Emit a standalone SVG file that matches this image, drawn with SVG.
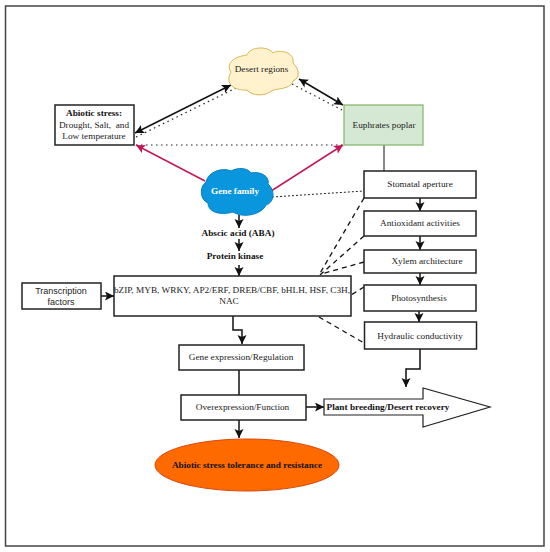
<svg xmlns="http://www.w3.org/2000/svg" width="550" height="552" viewBox="0 0 550 552">
<style>
text{font-family:"Liberation Serif",serif;font-size:9.25px;fill:#222;text-anchor:middle}
.b{font-weight:bold;fill:#111}
.box{fill:#fff;stroke:#222;stroke-width:1.5}
.l{fill:none;stroke:#111;stroke-width:1.5}
.a{marker-end:url(#ah)}
.s{marker-start:url(#as)}
.dot{fill:none;stroke:#222;stroke-width:1.2;stroke-dasharray:1.5 3.5}
.dash{fill:none;stroke:#111;stroke-width:1.3;stroke-dasharray:5 4}
.r{fill:none;stroke:#c2185b;stroke-width:1.5;marker-end:url(#ar)}
</style>
<defs>
<marker id="ah" markerWidth="10" markerHeight="10" refX="9" refY="4.500" orient="auto" markerUnits="userSpaceOnUse"><path d="M0 0L9 4.500L0 9L2 4.500Z" fill="#111"/></marker>
<marker id="as" markerWidth="10" markerHeight="10" refX="0" refY="4.500" orient="auto" markerUnits="userSpaceOnUse"><path d="M9 0L0 4.500L9 9L7 4.500Z" fill="#111"/></marker>
<marker id="ar" markerWidth="10" markerHeight="10" refX="9" refY="4.500" orient="auto" markerUnits="userSpaceOnUse"><path d="M0 0L9 4.500L0 9L2 4.500Z" fill="#c2185b"/></marker>
</defs>
<rect x="5.500" y="6" width="538.500" height="540" fill="#fff" stroke="#444" stroke-width="1.500"/>
<g id="connectors">
<path class="l a s" d="M135 133L231 85"/>
<path class="dot" d="M136 137L236 88"/>
<path class="l a s" d="M299 79L343 105"/>
<path class="dot" d="M292 84L342 110"/>
<path class="dot" d="M136 145L342 145"/>
<path class="r" d="M205 181L136 145"/>
<path class="r" d="M268 193L343 145"/>
<path class="l" style="stroke-width:1" d="M384 145V171"/>
<path class="dot" style="stroke-dasharray:2 2;stroke-width:1" d="M272 197L364 191"/>
<path class="l a" d="M420 198V211"/>
<path class="l a" d="M420 236V250"/>
<path class="l a" d="M420 273V285"/>
<path class="l a" d="M419 311V322"/>
<path class="dash" d="M364 198L319 275"/>
<path class="dash" d="M364 236L320 275"/>
<path class="dash" d="M364 262L321 274"/>
<path class="dash" d="M364 287L351 295"/>
<path class="dash" d="M319 317L364 343"/>
<path class="l a" d="M239 215V228"/>
<path class="l a" d="M239 239V251"/>
<path class="l a" d="M239 265V276"/>
<path class="l a" d="M101 296H114"/>
<path class="l a" d="M233 316V330H242V344"/>
<path class="l" d="M239 370V395"/>
<path class="l a" d="M306 407H324"/>
<path class="l a" d="M239 420V438"/>
<path class="l a" d="M420 349V369H406V387"/>
</g>
<g id="desert-regions">
<path d="M231 72C226 64 232 57 247 55C251 46 268 46 273 53C279 49 295 52 293 63C300 70 300 78 293 81C292 88 279 89 273 90C265 97 252 96 247 90C235 91 224 84 231 72Z" fill="#fff2cc" stroke="#d6b656" stroke-width="1"/>
<text x="261.500" y="72">Desert regions</text>
</g>
<g id="abiotic-stress">
<rect class="box" x="55" y="105" width="79" height="40"/>
<text class="b" x="94" y="116">Abiotic stress:</text>
<text x="94" y="128" style="white-space:pre">Drought, Salt,  and</text>
<text x="94" y="139">Low temperature</text>
</g>
<g id="euphrates-poplar">
<rect x="344" y="105" width="79" height="40" fill="#d5e8d4" stroke="#82b366" stroke-width="1.2"/>
<text x="384" y="128">Euphrates poplar</text>
</g>
<g id="gene-family">
<path d="M206 182C208 172 222 167 231 171C238 167 248 168 251 173C260 171 270 176 268 184C275 190 275 202 266 205C262 214 244 219 233 212C224 215 208 214 208 203C200 200 199 187 206 182Z" fill="#0a96dc" stroke="#0a7ec0" stroke-width="1"/>
<text class="b" x="235" y="194" style="fill:#fff">Gene family</text>
</g>
<g id="abscisic-acid"><text class="b" x="238" y="236">Abscic acid (ABA)</text></g>
<g id="protein-kinase"><text class="b" x="235" y="259">Protein kinase</text></g>
<g id="stomatal-aperture"><rect class="box" x="364" y="171" width="112" height="27"/><text x="420" y="187">Stomatal aperture</text></g>
<g id="antioxidant-activities"><rect class="box" x="364" y="211" width="112" height="25"/><text x="420" y="226">Antioxidant activities</text></g>
<g id="xylem-architecture"><rect class="box" x="364" y="250" width="112" height="23"/><text x="427" y="264">Xylem architecture</text></g>
<g id="photosynthesis"><rect class="box" x="364" y="285" width="112" height="26"/><text x="419" y="301">Photosynthesis</text></g>
<g id="hydraulic-conductivity"><rect class="box" x="364.500" y="322" width="112" height="27"/><text x="420" y="339">Hydraulic conductivity</text></g>
<g id="transcription-factors"><rect class="box" x="22" y="283" width="79" height="26"/>
<text x="61" y="293.500" style="font-family:'Liberation Sans',sans-serif;font-size:9px">Transcription</text>
<text x="61" y="305" style="font-family:'Liberation Sans',sans-serif;font-size:9px">factors</text></g>
<g id="tf-list"><rect class="box" x="114" y="276" width="237" height="40"/>
<text x="232" y="293">bZIP, MYB, WRKY, AP2/ERF, DREB/CBF, bHLH, HSF, C3H,</text>
<text x="229" y="304">NAC</text></g>
<g id="gene-expression"><rect class="box" x="179" y="345" width="125" height="25"/><text x="241" y="360">Gene expression/Regulation</text></g>
<g id="overexpression"><rect class="box" x="181" y="395" width="125" height="25"/><text x="242.500" y="410">Overexpression/Function</text></g>
<g id="plant-breeding"><path class="box" d="M324 399H423V388L490 407L423 427V415H324Z" style="stroke-width:1.2"/>
<text class="b" x="326.500" y="410" style="text-anchor:start">Plant breeding/Desert recovery</text></g>
<g id="tolerance"><ellipse cx="247" cy="465" rx="92" ry="26" fill="#ff6a00" stroke="#d9480f" stroke-width="1"/>
<text class="b" x="247" y="468">Abiotic stress tolerance and resistance</text></g>
</svg>
